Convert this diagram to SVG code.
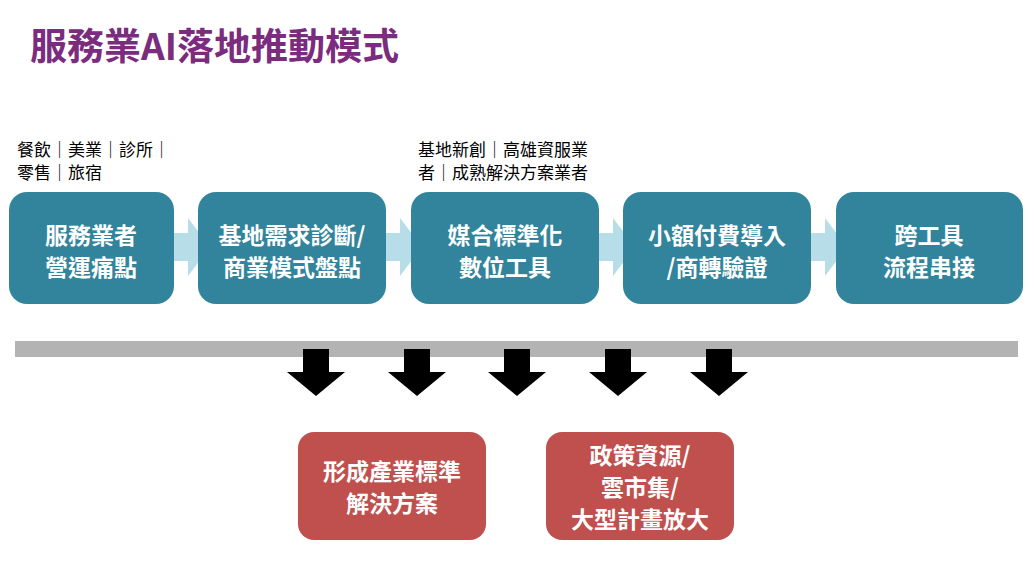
<svg xmlns="http://www.w3.org/2000/svg" width="1035" height="571" viewBox="0 0 1035 571">
<defs>
<style>
.t{font-family:"Noto Sans CJK TC","Liberation Sans",sans-serif;font-weight:bold;fill:#fff;font-size:23px;text-anchor:middle}
.s{font-family:"Noto Sans CJK TC","Liberation Sans",sans-serif;fill:#000;font-size:17px}
.b{fill:#31849B}.r{fill:#C0504D}
</style>
<path id="dn" d="M-13 0H13V23H29L0 47L-29 23H-13Z" fill="#000"/>
<path id="ch" d="M0 15H26V0L48 29L26 58V43H0Z" fill="#B7DDE8"/>
</defs>
<rect width="1035" height="571" fill="#fff"/>
<text x="30" y="60" font-family="Noto Sans CJK TC,sans-serif" font-weight="bold" font-size="37" fill="#7B2C7E">服務業AI落地推動模式</text>
<text class="s" x="17" y="156">餐飲｜美業｜診所｜</text>
<text class="s" x="17" y="179">零售｜旅宿</text>
<text class="s" x="418" y="156">基地新創｜高雄資服業</text>
<text class="s" x="418" y="179">者｜成熟解決方案業者</text>
<g id="connectors">
<use href="#ch" x="162" y="218"/>
<use href="#ch" x="374" y="218"/>
<use href="#ch" x="587" y="218"/>
<use href="#ch" x="799" y="218"/>
<rect x="15" y="341" width="1003" height="16" fill="#B3B3B3"/>
<use href="#dn" x="316" y="349"/>
<use href="#dn" x="417" y="349"/>
<use href="#dn" x="517" y="349"/>
<use href="#dn" x="618" y="349"/>
<use href="#dn" x="719" y="349"/>
</g>
<g id="n1"><rect class="b" x="9" y="192" width="165" height="112" rx="18"/><text class="t" x="91" y="244">服務業者</text><text class="t" x="91" y="276">營運痛點</text></g>
<g id="n2"><rect class="b" x="198" y="192" width="188" height="112" rx="18"/><text class="t" x="292" y="244">基地需求診斷/</text><text class="t" x="292" y="276">商業模式盤點</text></g>
<g id="n3"><rect class="b" x="411" y="192" width="188" height="112" rx="18"/><text class="t" x="505" y="244">媒合標準化</text><text class="t" x="505" y="276">數位工具</text></g>
<g id="n4"><rect class="b" x="623" y="192" width="188" height="112" rx="18"/><text class="t" x="717" y="244">小額付費導入</text><text class="t" x="717" y="276">/商轉驗證</text></g>
<g id="n5"><rect class="b" x="836" y="192" width="187" height="112" rx="18"/><text class="t" x="929" y="244">跨工具</text><text class="t" x="929" y="276">流程串接</text></g>
<g id="n6"><rect class="r" x="298" y="432" width="188" height="108" rx="16"/><text class="t" x="392" y="480">形成產業標準</text><text class="t" x="392" y="512">解決方案</text></g>
<g id="n7"><rect class="r" x="546" y="432" width="188" height="108" rx="16"/><text class="t" x="640" y="464">政策資源/</text><text class="t" x="640" y="496">雲市集/</text><text class="t" x="640" y="528">大型計畫放大</text></g>
</svg>
